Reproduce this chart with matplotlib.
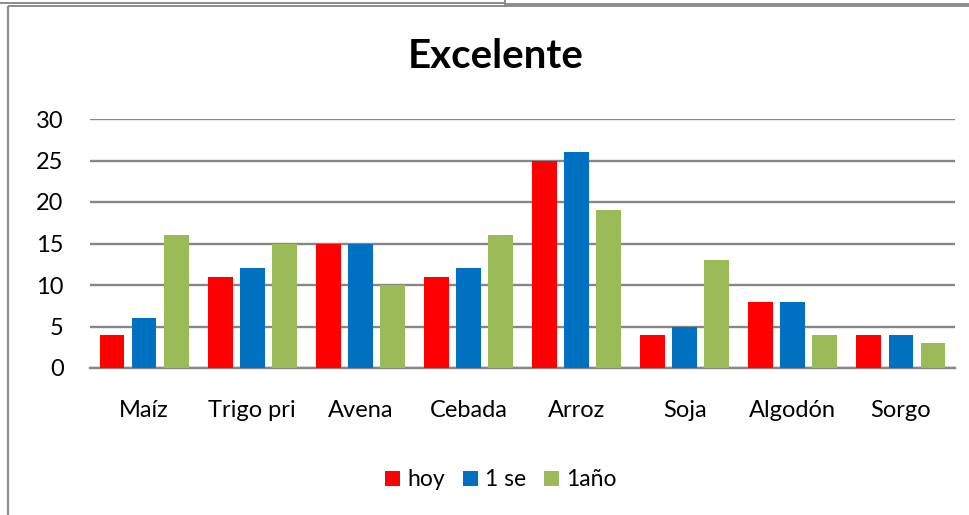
import numpy as np
import matplotlib
matplotlib.use('Agg')
import matplotlib.pyplot as plt
from matplotlib.lines import Line2D
from matplotlib.patches import Patch

categories = ['Maíz', 'Trigo pri', 'Avena', 'Cebada', 'Arroz', 'Soja', 'Algodón', 'Sorgo']
hoy = [4, 11, 15, 11, 25, 4, 8, 4]
una_semana = [6, 12, 15, 12, 26, 5, 8, 4]
un_anio = [16, 15, 10, 16, 19, 13, 4, 3]
series_names = ['hoy', '1 se', '1año']
colors = ['#FF0000', '#0070C0', '#9BBB59']
yticks = [0, 5, 10, 15, 20, 25, 30]

plt.rcParams['font.family'] = ['Lato', 'DejaVu Sans']

W, H = 970, 515
fig = plt.figure(figsize=(W / 100, H / 100), dpi=100)
ax = fig.add_axes([90 / W, 1 - 368 / H, 865 / W, 249 / H])

x = np.arange(len(categories))
pitch = 0.296
width = 0.23
for i, (vals, c) in enumerate(zip([hoy, una_semana, un_anio], colors)):
    ax.bar(x + (i - 1) * pitch, vals, width, color=c, zorder=3)

ax.set_xlim(-0.5, len(categories) - 0.5)
ax.set_ylim(0, 30)
ax.set_yticks(yticks)
ax.set_xticks(x)
ax.set_xticklabels(categories)
ax.tick_params(axis='both', length=0, labelsize=17, colors='black')
ax.tick_params(axis='y', pad=19)
ax.tick_params(axis='x', pad=23)
ax.grid(axis='y', color='#868686', linewidth=1.7, zorder=0)
for s in ['left', 'right', 'top']:
    ax.spines[s].set_visible(False)
ax.spines['bottom'].set_color('#868686')
ax.spines['bottom'].set_linewidth(1.7)

fig.text(496 / W, 1 - 57 / H, 'Excelente', ha='center', va='center',
         fontsize=29, fontweight='bold')

handles = [Patch(facecolor=c, label=n) for c, n in zip(colors, series_names)]
fig.legend(handles=handles, loc='center', bbox_to_anchor=(501 / W, 1 - 480 / H),
           ncol=3, frameon=False, fontsize=16.5, handlelength=0.65, handleheight=0.65,
           handletextpad=0.3, columnspacing=0.8)

# chart frame lines
def fline(xs, ys, lw, c='#8c8c8c'):
    fig.add_artist(Line2D([v / W for v in xs], [1 - v / H for v in ys],
                          transform=fig.transFigure, color=c, linewidth=lw,
                          solid_capstyle='butt'))

fline([0, 505], [2.5, 2.5], 1.4)
fline([505, 505], [0, 6], 1.4)
fline([8.5, 505], [6, 6], 1.4)
fline([505, 970], [5, 5], 2.8)
fline([8.5, 8.5], [5.5, 515], 1.6)

fig.savefig('out.png', dpi=100)
